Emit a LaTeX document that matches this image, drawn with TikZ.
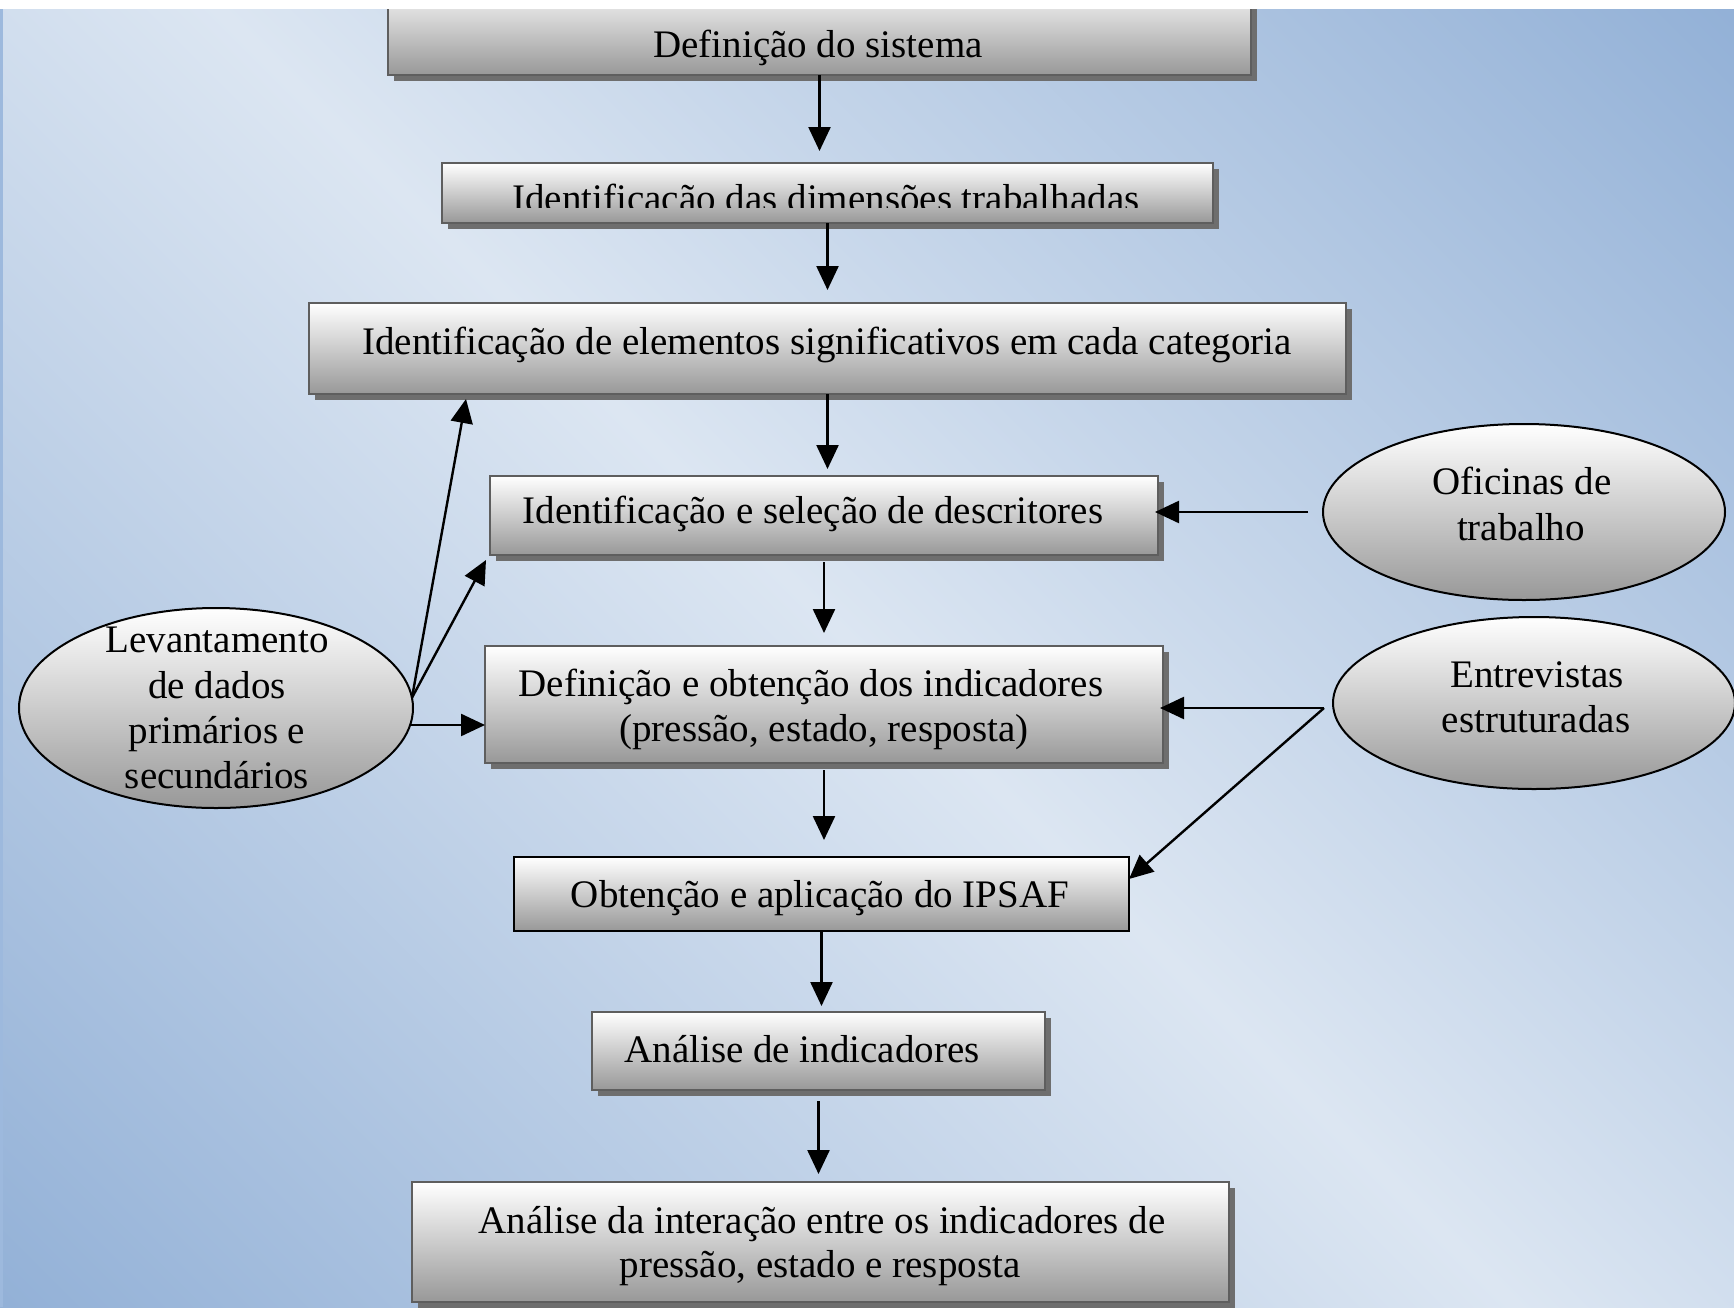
\documentclass[tikz,border=0pt]{standalone}
\usepackage{fontspec}
\setmainfont{Liberation Serif}
\usetikzlibrary{shapes.geometric,shadows,arrows.meta,calc}
\definecolor{bgblue}{HTML}{93B1D7}
\definecolor{bglight}{HTML}{DCE6F2}
\definecolor{boxbot}{HTML}{989898}
\definecolor{boxline}{HTML}{5E5E5E}
\definecolor{shadowgray}{HTML}{6E6E6E}
\definecolor{leftblue}{HTML}{9DB9DD}
\pgfdeclarehorizontalshading{bgsh}{100bp}{color(0bp)=(bgblue); color(14.64bp)=(bgblue); color(50bp)=(bglight); color(85.36bp)=(bgblue); color(100bp)=(bgblue)}
\begin{document}
\begin{tikzpicture}[x=0.5pt,y=-0.5pt,
  flowbox/.style={rectangle, draw=boxline, line width=1.2pt, top color=white, bottom color=boxbot,
    inner sep=0pt, outer sep=0pt,
    drop shadow={shadow xshift=3pt, shadow yshift=-3pt, fill=shadowgray, opacity=1}},
  plainbox/.style={rectangle, draw=black, line width=1pt, top color=white, bottom color=boxbot,
    inner sep=0pt, outer sep=0pt},
  oval/.style={ellipse, draw=black, line width=1pt, top color=white, bottom color=boxbot,
    inner sep=0pt, outer sep=0pt},
  lbl/.style={anchor=base, inner sep=0pt, font=\fontsize{19.5}{22.5}\selectfont},
  conn/.style={line width=1.2pt, -{Triangle[length=12pt,width=11pt]}}]
\useasboundingbox (0,0) rectangle (1734,1307);
% background
\shade[shading=bgsh, shading angle=45] (0,9) rectangle (1734,1307);
\fill[leftblue] (0,9) rectangle (3,1307);

% boxes
\node[flowbox, minimum width=431.5pt, minimum height=47.5pt] (b1) at (819.5,27.5) {};
\node[flowbox, minimum width=385.5pt, minimum height=30pt] (b2) at (827.5,193) {};
\node[flowbox, minimum width=518.5pt, minimum height=45.5pt] (b3) at (827.5,348.5) {};
\node[flowbox, minimum width=334pt, minimum height=39.5pt] (b4) at (824,515.5) {};
\node[flowbox, minimum width=339pt, minimum height=58.5pt] (b5) at (824,704.5) {};
\node[plainbox, minimum width=307.5pt, minimum height=37pt] (b6) at (821.5,894) {};
\node[flowbox, minimum width=226.5pt, minimum height=39pt] (b7) at (818.5,1051) {};
\node[flowbox, minimum width=408.5pt, minimum height=60pt] (b8) at (820.5,1242) {};

% ellipses
\node[oval, minimum width=197pt, minimum height=100pt] (L) at (216,708) {};
\node[oval, minimum width=201pt, minimum height=88pt] (O) at (1524,512) {};
\node[oval, minimum width=201pt, minimum height=86pt] (E) at (1534,703) {};

% texts
\node[lbl] (t1) at (818,57) {Definição do sistema};
\begin{scope}
\clip (442,163) rectangle (1213,207);
\node[lbl] (t2) at (826,211) {Identificação das dimensões trabalhadas};
\end{scope}
\node[lbl] (t3) at (827,354) {Identificação de elementos significativos em cada categoria};
\node[lbl] (t4) at (813,523) {Identificação e seleção de descritores};
\node[lbl] (t5a) at (811,696) {Definição e obtenção dos indicadores};
\node[lbl] (t5b) at (824,741) {(pressão, estado, resposta)};
\node[lbl] (t6) at (820,907) {Obtenção e aplicação do IPSAF};
\node[lbl] (t7) at (802,1062) {Análise de indicadores};
\node[lbl] (t8a) at (822,1233) {Análise da interação entre os indicadores de};
\node[lbl] (t8b) at (820,1277) {pressão, estado e resposta};
\node[lbl] (tLa) at (217,652) {Levantamento};
\node[lbl] (tLb) at (217,698) {de dados};
\node[lbl] (tLc) at (217,743) {primários e};
\node[lbl] (tLd) at (217,788) {secundários};
\node[lbl] (tOa) at (1522,494) {Oficinas de};
\node[lbl] (tOb) at (1521,540) {trabalho};
\node[lbl] (tEa) at (1537,687) {Entrevistas};
\node[lbl] (tEb) at (1536,732) {estruturadas};

% vertical flow connectors
\draw[conn, shorten >=6pt] (b1.south) -- (b1.south |- b2.north);
\draw[conn, shorten >=6.5pt] (b2.south) -- (b2.south |- b3.north);
\draw[conn, shorten >=3.5pt] (b3.south) -- (b3.south |- b4.north);
\draw[conn, shorten <=3.5pt, shorten >=6.5pt] (b4.south) -- (b4.south |- b5.north);
\draw[conn, shorten <=3.5pt, shorten >=8.5pt] (b5.south) -- (b5.south |- b6.north);
\draw[conn, shorten >=3pt] (b6.south) -- (b6.south |- b7.north);
\draw[conn, shorten <=5.5pt, shorten >=4pt] (b7.south) -- (b7.south |- b8.north);

% from Levantamento
\draw[conn] (L.3) -- ($(b3.south west)+(157,5)$);
\draw[conn] (L.3) -- ($(b4.south west)+(-4,5)$);
\draw[conn] (L.-5) -- (L.-5 -| b5.west);

% from Oficinas
\draw[conn, shorten <=7.5pt, shorten >=-1.5pt] (O.west) -- (O.west -| b4.east);

% from Entrevistas
\coordinate (ej) at ($(E.west)+(-9,5)$);
\draw[conn, shorten >=-1.5pt] (ej) -- (ej -| b5.east);
\draw[conn] (ej) -- ($(b6.north east)+(0,22)$);

% top white strip
\fill[white] (0,0) rectangle (1734,9);
\end{tikzpicture}
\end{document}
